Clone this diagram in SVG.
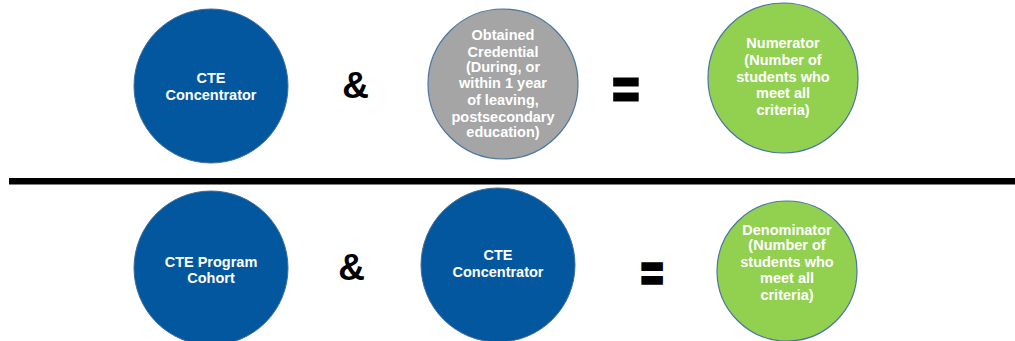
<svg xmlns="http://www.w3.org/2000/svg" width="1015" height="341" viewBox="0 0 1015 341">
  <style>
    .blue { fill: #03579f; stroke: #3f6f9c; stroke-width: 1; }
    .grey { fill: #a5a5a5; stroke: #4a76a0; stroke-width: 1.2; }
    .green { fill: #92d050; stroke: #4a76a0; stroke-width: 1.2; }
    .lbl { font-family: "Liberation Sans", Arial, sans-serif; font-weight: bold; font-size: 14.5px; fill: #ffffff; text-anchor: middle; }
    .op { font-family: "Liberation Sans", Arial, sans-serif; font-weight: bold; fill: #000000; text-anchor: middle; }
    .eq { font-family: "Liberation Sans", Arial, sans-serif; font-weight: bold; fill: #000000; stroke: #000000; stroke-width: 2.5; text-anchor: middle; }
  </style>
  <rect width="1015" height="341" fill="#ffffff"/>

  <g id="connectors">
    <rect id="divider" x="9" y="178" width="1006" height="6.5" fill="#000000"/>
  </g>

  <g id="top-cte-concentrator">
    <circle class="blue" cx="211" cy="86" r="77"/>
    <text class="lbl" x="211" y="83">CTE</text>
    <text class="lbl" x="211" y="100">Concentrator</text>
  </g>

  <g id="top-amp">
    <text class="op" x="355.5" y="98" font-size="37">&amp;</text>
  </g>

  <g id="obtained-credential">
    <circle class="grey" cx="503" cy="84" r="75"/>
    <text class="lbl" x="503" y="40">Obtained</text>
    <text class="lbl" x="503" y="57">Credential</text>
    <text class="lbl" x="503" y="72">(During, or</text>
    <text class="lbl" x="503" y="88">within 1 year</text>
    <text class="lbl" x="503" y="105">of leaving,</text>
    <text class="lbl" x="503" y="122">postsecondary</text>
    <text class="lbl" x="503" y="137">education)</text>
  </g>

  <g id="top-equals">
    <text class="eq" x="0" y="0" font-size="46" transform="translate(626,108) scale(1,1.2)">=</text>
  </g>

  <g id="numerator">
    <circle class="green" cx="783" cy="78" r="75"/>
    <text class="lbl" x="783" y="48">Numerator</text>
    <text class="lbl" x="783" y="65">(Number of</text>
    <text class="lbl" x="783" y="82">students who</text>
    <text class="lbl" x="783" y="98">meet all</text>
    <text class="lbl" x="783" y="115">criteria)</text>
  </g>

  <g id="cte-program-cohort">
    <circle class="blue" cx="211" cy="268" r="77"/>
    <text class="lbl" x="211" y="267">CTE Program</text>
    <text class="lbl" x="211" y="283">Cohort</text>
  </g>

  <g id="bottom-amp">
    <text class="op" x="351.5" y="280" font-size="37">&amp;</text>
  </g>

  <g id="bottom-cte-concentrator">
    <circle class="blue" cx="498" cy="265" r="77"/>
    <text class="lbl" x="498" y="260">CTE</text>
    <text class="lbl" x="498" y="277">Concentrator</text>
  </g>

  <g id="bottom-equals">
    <text class="eq" x="0" y="0" font-size="38" transform="translate(652,291) scale(1,1.3)">=</text>
  </g>

  <g id="denominator">
    <circle class="green" cx="787" cy="271" r="70"/>
    <text class="lbl" x="787" y="235">Denominator</text>
    <text class="lbl" x="787" y="250">(Number of</text>
    <text class="lbl" x="787" y="267">students who</text>
    <text class="lbl" x="787" y="283">meet all</text>
    <text class="lbl" x="787" y="300">criteria)</text>
  </g>
</svg>
